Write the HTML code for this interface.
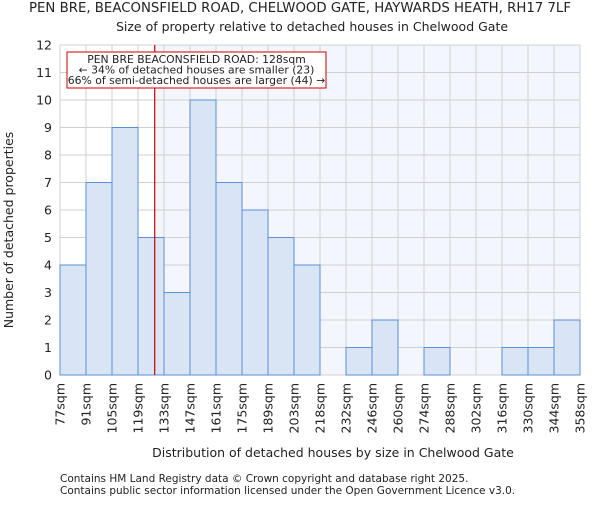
<!DOCTYPE html>
<html><head><meta charset="utf-8"><style>
body{margin:0;background:#fff;}
svg text{font-family:"DejaVu Sans","Liberation Sans",sans-serif;fill:#222;}
</style></head><body>
<svg id="chart" width="600" height="500" xmlns="http://www.w3.org/2000/svg">
<text x="300" y="12" font-size="13.3" text-anchor="middle">PEN BRE, BEACONSFIELD ROAD, CHELWOOD GATE, HAYWARDS HEATH, RH17 7LF</text>
<text x="312" y="31" font-size="12.5" text-anchor="middle">Size of property relative to detached houses in Chelwood Gate</text>
<g id="plot"></g>
<text x="333" y="457" font-size="12.5" text-anchor="middle">Distribution of detached houses by size in Chelwood Gate</text>
<text transform="translate(13,230) rotate(-90)" font-size="12.5" text-anchor="middle">Number of detached properties</text>
<text x="60" y="482" font-size="10.5">Contains HM Land Registry data © Crown copyright and database right 2025.</text>
<text x="60" y="494" font-size="10.5">Contains public sector information licensed under the Open Government Licence v3.0.</text>
</svg>
<script>
const binLabels=["77sqm","91sqm","105sqm","119sqm","133sqm","147sqm","161sqm","175sqm","189sqm","203sqm","218sqm","232sqm","246sqm","260sqm","274sqm","288sqm","302sqm","316sqm","330sqm","344sqm","358sqm"];
const counts=[4,7,9,5,3,10,7,6,5,4,0,1,2,0,1,0,0,1,1,2];
const yTicks=[0,1,2,3,4,5,6,7,8,9,10,11,12];
const marker=128;
const binEdges=[77,91,105,119,133];
const NS="http://www.w3.org/2000/svg";
const X0=60,X1=580,Y0=375,Y1=45,yMax=12;
const n=counts.length,bw=(X1-X0)/n;
const xIdx=i=>X0+i*bw;
const y=v=>Y0-(Y0-Y1)*v/yMax;
function mk(t,a){const e=document.createElementNS(NS,t);for(const k in a)e.setAttribute(k,a[k]);return e;}
const g=document.getElementById('plot');
let mi=0;for(let i=0;i<binEdges.length-1;i++)if(marker>=binEdges[i]&&marker<binEdges[i+1])mi=i+(marker-binEdges[i])/(binEdges[i+1]-binEdges[i]);
const mx=xIdx(mi);
const shade=mk('rect',{x:mx,y:Y1,width:X1-mx,height:Y0-Y1,fill:'#f3f6fd'});


g.appendChild(shade);
for(let i=0;i<=n;i++){const l=mk('line',{x1:xIdx(i),x2:xIdx(i),y1:Y1,y2:Y0,stroke:'#d0d0d0','stroke-width':1});


g.appendChild(l);}
yTicks.forEach(t=>{const l=mk('line',{x1:X0,x2:X1,y1:y(t),y2:y(t),stroke:'#d0d0d0','stroke-width':1});


g.appendChild(l);
const tx=mk('text',{x:X0-8,y:y(t)+4.5,'font-size':12.5,'text-anchor':'end'});tx.textContent=t;


g.appendChild(tx);});
counts.forEach((c,i)=>{if(!c)return;const r=mk('rect',{x:xIdx(i),y:y(c),width:bw,height:y(0)-y(c),fill:'#d9e4f5',stroke:'#5b8fd6','stroke-width':1});


g.appendChild(r);});
binLabels.forEach((s,i)=>{const tx=mk('text',{transform:`translate(${xIdx(i)+4.5},${Y0+8}) rotate(-90)`,'font-size':12.5,'text-anchor':'end'});tx.textContent=s;


g.appendChild(tx);});
const ml=mk('line',{x1:mx,x2:mx,y1:Y1,y2:Y0,stroke:'#cc0000','stroke-width':1.2});


g.appendChild(ml);
const box=mk('rect',{x:67,y:52,width:259,height:36,fill:'#fff',stroke:'#cc0000','stroke-width':1});


g.appendChild(box);
["PEN BRE BEACONSFIELD ROAD: 128sqm","← 34% of detached houses are smaller (23)","66% of semi-detached houses are larger (44) →"].forEach((s,i)=>{const tx=mk('text',{x:196.5,y:63+i*10.5,'font-size':10.8,'text-anchor':'middle'});tx.textContent=s;


g.appendChild(tx);});
</script>
</body></html>
